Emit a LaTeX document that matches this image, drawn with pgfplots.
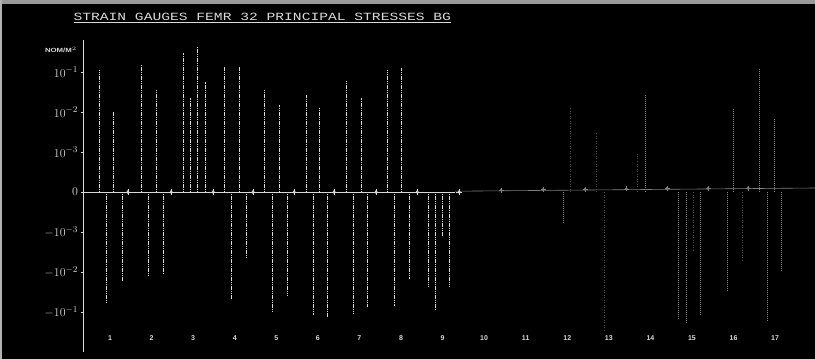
\documentclass[border=0pt]{standalone}
\usepackage{pgfplots}
\pgfplotsset{compat=1.18}
\usepackage{fontspec}
\setmonofont{Liberation Mono}
\setsansfont{Liberation Sans}
\definecolor{fg}{gray}{0.85}
\definecolor{dim}{gray}{0.5}
\definecolor{faint}{gray}{0.3}
\begin{document}
\begin{tikzpicture}[x=1pt,y=1pt]
\useasboundingbox (0,0) rectangle (815,359);
\fill[black] (0,0) rectangle (815,359);
\fill[gray!80] (0,355) rectangle (815,359);
\fill[gray!60] (0,0) rectangle (2,359);
\node[text=fg, font=\ttfamily\fontsize{11}{11}\selectfont, anchor=west] at (70,341)
  {\scalebox{1.33}[1]{\underline{STRAIN GAUGES FEMR 32 PRINCIPAL STRESSES BG}}};
\node[text=fg, font=\sffamily\bfseries\fontsize{6}{6}\selectfont] at (61,309)
  {\scalebox{1.3}[1]{NOM/M$^2$}};
\begin{axis}[
  at={(83pt,7pt)}, anchor=south west, scale only axis,
  width=732pt, height=312pt,
  xmin=0.35, xmax=17.96, ymin=-4, ymax=3.8,
  axis y line=left, axis x line=bottom,
  x axis line style={draw=none},
  y axis line style={fg, -, line width=0.7pt},
  major x tick style={draw=none},
  major y tick style={fg},
  major tick length=3pt,
  xtick={1,...,17},
  xticklabel style={anchor=center, yshift=15pt, text=fg, font=\sffamily\bfseries\fontsize{7}{7}\selectfont, /pgf/number format/assume math mode=true},
  ytick={-3,-2,-1,0,1,2,3},
  yticklabels={$-10^{-1}$,$-10^{-2}$,$-10^{-3}$,$0$,$10^{-3}$,$10^{-2}$,$10^{-1}$},
  yticklabel style={text=fg, font=\fontsize{13}{13}\selectfont},
  clip=false,
]
% zero line
\addplot[fg, line width=0.6pt] coordinates {(0.35,0) (9.3,0)};
\addplot[dim, line width=0.6pt] coordinates {(9.3,0.02) (17.96,0.1)};
% bright stems, upward
\addplot[ycomb, fg, line width=0.5pt, dash pattern=on 1.2pt off 0.6pt] coordinates {
 (0.735,3.05) (1.07,2.0) (1.75,3.17) (2.11,2.55) (2.76,3.47) (2.92,2.35)
 (3.09,3.63) (3.29,2.75) (3.74,3.15) (4.10,3.13) (4.71,2.55) (5.07,2.18)
 (5.72,2.43) (6.03,2.1) (6.68,2.78) (7.04,2.35) (7.67,3.05) (8.00,3.1)};
% bright stems, downward
\addplot[ycomb, fg, line width=0.5pt, dash pattern=on 1.2pt off 0.6pt] coordinates {
 (0.90,-2.75) (1.29,-2.25) (1.91,-2.1) (2.28,-2.05) (3.91,-2.68) (4.27,-1.63)
 (4.90,-2.98) (5.26,-2.6) (5.88,-3.08) (6.22,-3.15) (6.85,-3.05) (7.18,-2.88)
 (7.83,-2.85) (8.19,-2.18) (8.65,-2.35) (8.82,-2.93) (8.99,-1.1) (9.16,-2.35)};
% dim stems, right half
\addplot[ycomb, dim, line width=0.5pt, dash pattern=on 1pt off 1pt] coordinates {
 (13.87,2.45) (15.99,2.1) (16.62,3.1) (16.98,1.85)
 (11.90,-0.8) (14.67,-3.2) (14.86,-3.3) (15.20,-3.1) (15.85,-2.5)
 (16.81,-3.25) (17.15,-2.0)};
\addplot[ycomb, faint, line width=0.5pt, dash pattern=on 1pt off 1.5pt] coordinates {
 (12.07,2.1) (12.69,1.5) (13.68,0.95)
 (12.89,-3.5) (15.03,-1.5) (16.21,-1.75)};
% markers on the zero line
\addplot[only marks, mark=diamond*, mark size=1.6pt, fg] coordinates {
 (1.43,0) (2.47,0) (3.48,0) (4.44,0) (5.43,0) (6.39,0) (7.40,0) (8.39,0) (9.40,0)};
\addplot[only marks, mark=+, mark size=2.8pt, fg] coordinates {
 (1.43,0) (2.47,0) (3.48,0) (4.44,0) (5.43,0) (6.39,0) (7.40,0) (8.39,0) (9.40,0)};
\addplot[only marks, mark=+, mark size=2.5pt, dim] coordinates {
 (10.41,0.05) (11.42,0.06) (12.43,0.07) (13.42,0.08) (14.40,0.09) (15.39,0.09) (16.35,0.1)};
\addplot[only marks, mark=diamond*, mark size=1.4pt, dim] coordinates {
 (10.41,0.05) (11.42,0.06) (12.43,0.07) (13.42,0.08) (14.40,0.09) (15.39,0.09) (16.35,0.1)};
\end{axis}
\end{tikzpicture}
\end{document}
